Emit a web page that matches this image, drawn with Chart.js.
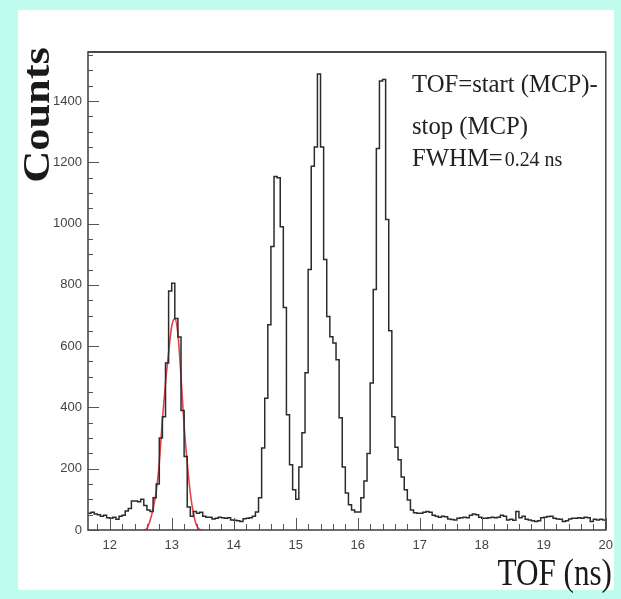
<!DOCTYPE html>
<html><head><meta charset="utf-8">
<script src="https://cdn.jsdelivr.net/npm/chart.js@4.4.1/dist/chart.umd.min.js"></script>
<style>html,body{margin:0;padding:0;background:#bffcee;overflow:hidden;} canvas{display:block;}</style>
</head><body>
<canvas id="c" width="621" height="599" style="width:621px;height:599px"></canvas>
<script>
// ---- data ----
const binStart = 11.65;   // left edge of first bin (ns)
const binWidth = 0.05;    // ns
const counts = [
  55,58,52,50,45,48,40,38,42,35,
  45,48,62,70,95,95,92,100,80,65,
  60,105,150,300,370,545,780,805,690,630,
  390,240,75,45,60,55,58,45,42,42,
  36,38,42,40,38,40,33,32,30,28,
  37,38,40,45,59,105,268,430,670,925,
  1154,1150,990,726,376,213,131,100,206,317,
  513,850,1187,1250,1488,1250,883,697,631,610,
  556,366,206,121,82,65,59,59,105,160,
  250,480,785,1245,1465,1470,1013,650,370,270,
  229,173,131,98,65,56,55,55,58,60,
  58,48,45,42,45,43,36,34,33,38,
  40,42,40,48,52,50,42,38,38,40,
  42,40,42,48,45,33,35,32,60,40,
  45,35,33,30,28,30,40,42,44,45,
  38,36,35,28,30,36,38,38,40,38,
  42,40,28,35,33,35,33
];
const fitX = [12.55,12.60,12.65,12.70,12.75,12.80,12.85,12.90,12.95,13.00,13.05,13.10,13.15,13.20,13.25,13.30,13.35,13.40,13.45,13.50];
const fitY = [0,5,30,70,125,220,360,480,580,665,690,640,500,340,220,120,55,15,2,0];
const xTickValues = [12,13,14,15,16,17,18,19,20];
const yTickValues = [0,200,400,600,800,1000,1200,1400];
const xRange = [11.65, 20];
const yRange = [0, 1560];
const xTitle = 'TOF (ns)';
const yTitle = 'Counts';
const noteLines = ['TOF=start (MCP)-', 'stop (MCP)', 'FWHM='];
const fwhmValue = '0.24 ns';

// ---- build library data ----
const histPoints = counts.map((c, i) => ({x: +(binStart + i * binWidth).toFixed(2), y: c}));
histPoints.push({x: xRange[1], y: counts[counts.length - 1]});
const fitPoints = fitX.map((x, i) => ({x: x, y: fitY[i]}));

const SERIF = '"Liberation Serif", "DejaVu Serif", serif';
const SANS = '"Liberation Sans", Arial, sans-serif';

const decor = {
  id: 'decor',
  beforeDraw(chart) {
    const ctx = chart.ctx;
    ctx.save();
    ctx.fillStyle = '#bffcee';
    ctx.fillRect(0, 0, chart.width, chart.height);
    ctx.fillStyle = '#ffffff';
    ctx.fillRect(18, 10, 596, 580);
    ctx.restore();
  },
  afterDraw(chart) {
    const ctx = chart.ctx;
    const a = chart.chartArea;
    const xs = chart.scales.x, ys = chart.scales.y;
    ctx.save();
    // ticks (inward)
    ctx.strokeStyle = '#555';
    ctx.lineWidth = 1;
    ctx.beginPath();
    for (let v = 0; v <= yRange[1]; v += 50) {
      const y = Math.round(ys.getPixelForValue(v)) + 0.5;
      const len = (v % 200 === 0) ? 11 : 5;
      ctx.moveTo(a.left, y); ctx.lineTo(a.left + len, y);
    }
    for (let k = 59; k <= 100; k++) {
      const v = k / 5;
      if (v < xRange[0] || v > xRange[1]) continue;
      const x = Math.round(xs.getPixelForValue(v)) + 0.5;
      const len = (k % 5 === 0) ? 12 : 6;
      ctx.moveTo(x, a.bottom); ctx.lineTo(x, a.bottom - len);
    }
    ctx.stroke();
    // frame
    ctx.strokeStyle = '#4a4a4a';
    ctx.lineWidth = 1.6;
    ctx.strokeRect(a.left, a.top, a.right - a.left, a.bottom - a.top);
    ctx.lineWidth = 2.2;
    ctx.beginPath(); ctx.moveTo(a.left, a.top); ctx.lineTo(a.right, a.top); ctx.stroke();

    // axis titles
    ctx.fillStyle = '#1a1a1a';
    ctx.save();
    ctx.translate(612, 585);
    ctx.scale(0.82, 1);
    ctx.font = '38px ' + SERIF;
    ctx.textAlign = 'right';
    ctx.textBaseline = 'alphabetic';
    ctx.fillText(xTitle, 0, 0);
    ctx.restore();

    ctx.save();
    ctx.translate(49, 115);
    ctx.rotate(-Math.PI / 2);
    ctx.scale(1.2, 1);
    ctx.font = 'bold 37px ' + SERIF;
    ctx.textAlign = 'center';
    ctx.textBaseline = 'alphabetic';
    ctx.fillText(yTitle, 0, 0);
    ctx.restore();

    // note
    ctx.fillStyle = '#222';
    ctx.textAlign = 'left';
    ctx.textBaseline = 'alphabetic';
    const base = [92, 134, 166];
    noteLines.forEach((t, i) => {
      ctx.save();
      ctx.translate(412, base[i]);
      ctx.scale(0.95, 1);
      ctx.font = '26px ' + SERIF;
      ctx.fillText(t, 0, 0);
      const w = ctx.measureText(t).width;
      if (i === 2) {
        ctx.font = '21px ' + SERIF;
        ctx.fillText(fwhmValue, w + 2, 0);
      }
      ctx.restore();
    });
    ctx.restore();
  }
};

new Chart(document.getElementById('c'), {
  type: 'line',
  data: {
    datasets: [
      {
        label: 'histogram',
        data: histPoints,
        stepped: 'before',
        borderColor: '#2b2b2b',
        borderWidth: 1.5,
        pointRadius: 0,
        fill: false
      },
      {
        label: 'fit',
        data: fitPoints,
        borderColor: 'rgba(225,45,50,0.9)',
        borderWidth: 1.6,
        pointRadius: 0,
        cubicInterpolationMode: 'monotone',
        fill: false
      }
    ]
  },
  options: {
    responsive: false,
    animation: false,
    devicePixelRatio: 1,
    layout: {padding: {left: 18, top: 52, right: 13, bottom: 9}},
    plugins: {legend: {display: false}, tooltip: {enabled: false}},
    scales: {
      x: {
        type: 'linear', min: xRange[0], max: xRange[1],
        border: {display: false},
        grid: {display: false, drawTicks: false},
        ticks: {padding: 8, color: '#444', font: {family: SANS, size: 13}, maxRotation: 0, autoSkip: false,
                callback: v => String(v)},
        afterBuildTicks: s => { s.ticks = xTickValues.map(v => ({value: v})); },
        afterFit: s => { s.height = 60; }
      },
      y: {
        type: 'linear', min: yRange[0], max: yRange[1],
        border: {display: false},
        grid: {display: false, drawTicks: false},
        ticks: {padding: 6, color: '#444', font: {family: SANS, size: 13}, callback: v => String(v)},
        afterBuildTicks: s => { s.ticks = yTickValues.map(v => ({value: v})); },
        afterFit: s => { s.width = 70; }
      }
    }
  },
  plugins: [decor]
});
</script>
</body></html>
